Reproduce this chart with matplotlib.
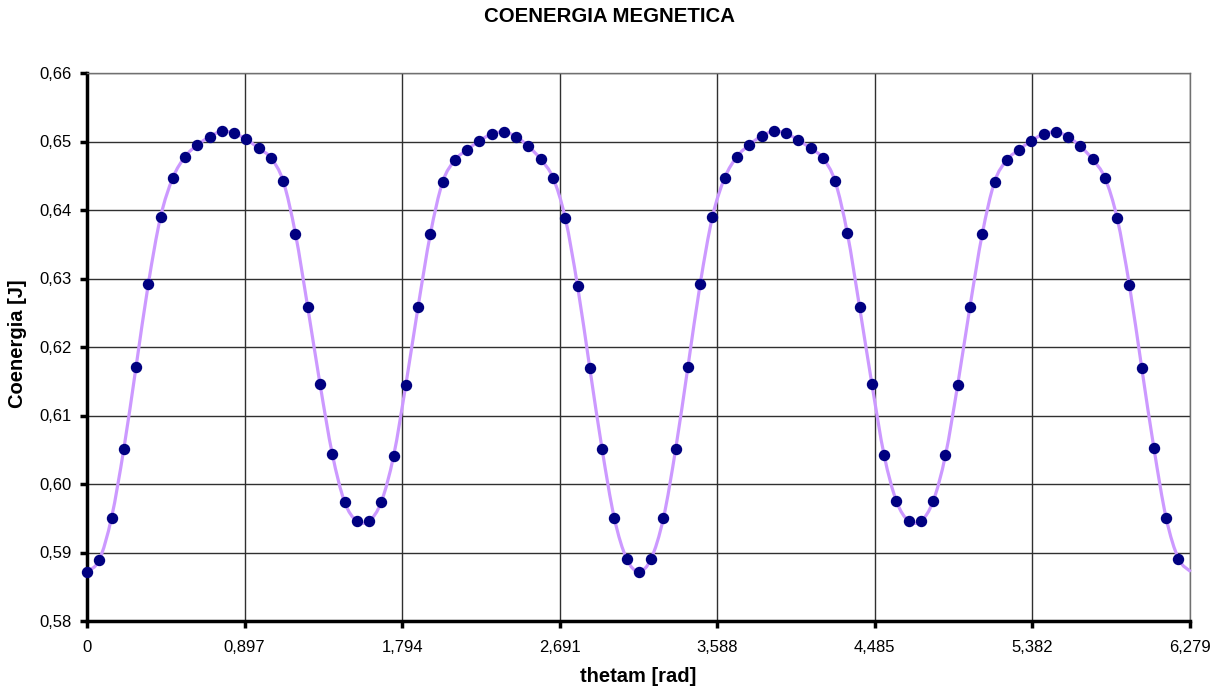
import numpy as np
import matplotlib
matplotlib.use('Agg')
import matplotlib.pyplot as plt
from matplotlib.path import Path
from matplotlib.patches import PathPatch

plt.rcParams['font.family'] = ['Liberation Sans', 'DejaVu Sans']

# angle samples every 4 deg, 0..360 deg
theta_deg = list(range(0, 361, 4))
coenergia = [
    0.5872, 0.5889, 0.5951, 0.6051, 0.6171, 0.6292, 0.6390, 0.6447, 0.6478, 0.6495,
    0.6507, 0.6515, 0.6512, 0.6503, 0.6490, 0.6476, 0.6442, 0.6365, 0.6258, 0.6146,
    0.6044, 0.5974, 0.5946, 0.5946, 0.5974, 0.6041, 0.6145, 0.6259, 0.6365, 0.6441,
    0.6473, 0.6488, 0.6501, 0.6511, 0.6514, 0.6507, 0.6493, 0.6474, 0.6447, 0.6388,
    0.6289, 0.6169, 0.6051, 0.5950, 0.5891, 0.5872, 0.5891, 0.5950, 0.6051, 0.6171,
    0.6292, 0.6390, 0.6447, 0.6478, 0.6495, 0.6508, 0.6515, 0.6512, 0.6502, 0.6490,
    0.6476, 0.6442, 0.6366, 0.6258, 0.6146, 0.6042, 0.5975, 0.5946, 0.5946, 0.5975,
    0.6042, 0.6145, 0.6259, 0.6365, 0.6441, 0.6473, 0.6488, 0.6501, 0.6511, 0.6514,
    0.6507, 0.6493, 0.6474, 0.6447, 0.6388, 0.6290, 0.6170, 0.6052, 0.5950, 0.5891,
    0.5872]

xticks = [0, 0.897, 1.794, 2.691, 3.588, 4.485, 5.382, 6.279]
xticklabels = ['0', '0,897', '1,794', '2,691', '3,588', '4,485', '5,382', '6,279']
yticks = [0.58, 0.59, 0.60, 0.61, 0.62, 0.63, 0.64, 0.65, 0.66]
yticklabels = ['0,58', '0,59', '0,60', '0,61', '0,62', '0,63', '0,64', '0,65', '0,66']

thetam = np.deg2rad(theta_deg)
y = np.array(coenergia)


def smooth_path(x, y):
    # excel-like smoothed line: catmull-rom segments as cubic bezier path
    P = np.column_stack([x, y])
    Pext = np.vstack([P[0], P, P[-1]])
    verts = [P[0]]
    codes = [Path.MOVETO]
    for i in range(len(P) - 1):
        p0, p1, p2, p3 = Pext[i], Pext[i+1], Pext[i+2], Pext[i+3]
        verts += [p1 + (p2 - p0)/6., p2 - (p3 - p1)/6., p2]
        codes += [Path.CURVE4]*3
    return Path(verts, codes)


fig = plt.figure(figsize=(12.17, 6.87), dpi=100)
ax = fig.add_axes([87/1217, 1-621/687, (1190-87)/1217, (621-73)/687])

ax.add_patch(PathPatch(smooth_path(thetam, y), fc='none', ec='#cc99ff', lw=2.3,
                       zorder=3, clip_on=False))
ax.plot(thetam[:-1], y[:-1], 'o', c='#000080', ms=7.2, zorder=4, clip_on=False)

ax.set_xlim(0, 6.279)
ax.set_ylim(0.58, 0.66)
ax.set_xticks(xticks)
ax.set_xticklabels(xticklabels)
ax.set_yticks(yticks)
ax.set_yticklabels(yticklabels)
ax.grid(True, color='#303030', lw=1.0)
ax.set_axisbelow(True)

for s in ['top', 'right']:
    ax.spines[s].set_color('#707070')
    ax.spines[s].set_linewidth(1.0)
for s in ['left', 'bottom']:
    ax.spines[s].set_color('k')
    ax.spines[s].set_linewidth(2.5)
ax.tick_params(direction='out', length=5, width=2.5, color='k', labelsize=12, pad=6)
ax.tick_params(axis='x', pad=9)

ax.set_xlabel('thetam [rad]', fontsize=14.5, fontweight='bold', labelpad=8)
ax.set_ylabel('Coenergia [J]', fontsize=14.5, fontweight='bold')
ax.yaxis.set_label_coords(-0.054, 0.506)
fig.text(609.5/1217, 1-17/687, 'COENERGIA MEGNETICA', ha='center', va='center',
         fontsize=14.7, fontweight='bold')

plt.savefig('out.png', dpi=100)
